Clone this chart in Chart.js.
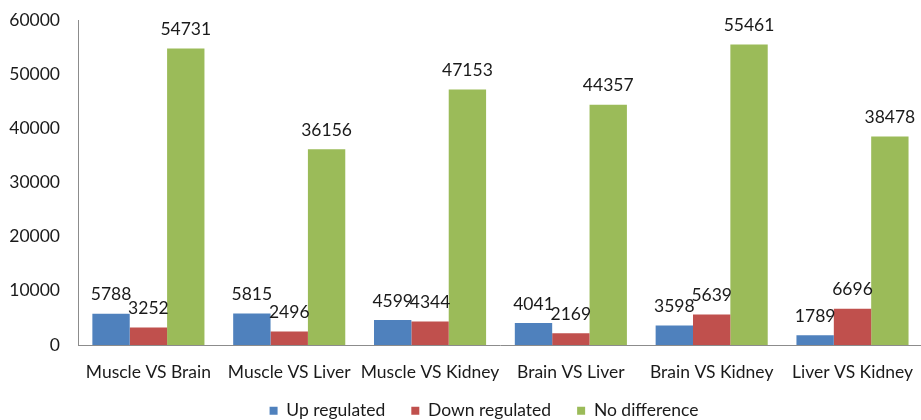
<!DOCTYPE html>
<html>
<head>
<meta charset="utf-8">
<script src="https://cdn.jsdelivr.net/npm/chart.js@4"></script>
<style>
  html, body { margin: 0; padding: 0; background: #fff; overflow: hidden; }
  #wrap { position: relative; width: 930px; height: 420px; }
</style>
</head>
<body>
<div id="wrap"><canvas id="diffChart"></canvas></div>
<script>
// chart data
const categories = ["Muscle VS Brain", "Muscle VS Liver", "Muscle VS Kidney", "Brain VS Liver", "Brain VS Kidney", "Liver VS Kidney"];
const upRegulated = [5788, 5815, 4599, 4041, 3598, 1789];
const downRegulated = [3252, 2496, 4344, 2169, 5639, 6696];
const noDifference = [54731, 36156, 47153, 44357, 55461, 38478];
const seriesNames = ["Up regulated", "Down regulated", "No difference"];

const FONT = "Lato, 'Open Sans', sans-serif";
const FONT_SIZE = 17.5;
const TEXT = "#1a1a1a";

// value labels above each bar
const barLabels = {
  id: "barLabels",
  afterDatasetsDraw(chart) {
    const ctx = chart.ctx;
    ctx.save();
    ctx.font = FONT_SIZE + "px " + FONT;
    ctx.fillStyle = TEXT;
    ctx.textAlign = "center";
    ctx.textBaseline = "middle";
    chart.data.datasets.forEach((ds, i) => {
      chart.getDatasetMeta(i).data.forEach((bar, j) => {
        ctx.fillText(String(ds.data[j]), bar.x, bar.y - 19);
      });
    });
    ctx.restore();
  },
};

// nudge the legend to where the original sits (a bit right of centre, near the bottom)
const legendPlace = {
  id: "legendPlace",
  afterLayout(chart) {
    const lg = chart.legend;
    if (!lg) return;
    lg.left += 38;
    lg.top = 376;
  },
};

const ctx = document.getElementById("diffChart").getContext("2d");
new Chart(ctx, {
  type: "bar",
  data: {
    labels: categories,
    datasets: [
      { label: seriesNames[0], data: upRegulated, backgroundColor: "#4F81BD" },
      { label: seriesNames[1], data: downRegulated, backgroundColor: "#C0504D" },
      { label: seriesNames[2], data: noDifference, backgroundColor: "#9BBB59" },
    ],
  },
  options: {
    responsive: true,
    maintainAspectRatio: false,
    animation: false,
    layout: { padding: { left: 0, right: 0, top: 20, bottom: 0 } },
    datasets: {
      bar: { categoryPercentage: 0.796, barPercentage: 1.0 },
    },
    plugins: {
      legend: {
        position: "bottom",
        maxHeight: 30,
        labels: {
          boxWidth: 8,
          boxHeight: 8,
          padding: 26,
          color: TEXT,
          font: { family: FONT, size: FONT_SIZE },
        },
      },
      tooltip: { enabled: false },
    },
    scales: {
      x: {
        grid: { display: false, drawTicks: false },
        border: { display: true, color: "#8c8c8c", width: 1 },
        ticks: {
          color: TEXT,
          padding: 17,
          maxRotation: 0,
          autoSkip: false,
          font: { family: FONT, size: FONT_SIZE },
        },
        afterFit: (scale) => { scale.height = 45; },
      },
      y: {
        min: 0,
        max: 60000,
        grid: { display: false, drawTicks: false },
        border: { display: true, color: "#8c8c8c", width: 1 },
        ticks: {
          stepSize: 10000,
          color: TEXT,
          padding: 18,
          font: { family: FONT, size: FONT_SIZE },
          callback: (value) => String(value),
        },
        afterFit: (scale) => {
          scale.width = 78;
          scale.paddingTop = 0;
        },
      },
    },
  },
  plugins: [barLabels, legendPlace],
});
</script>
</body>
</html>
